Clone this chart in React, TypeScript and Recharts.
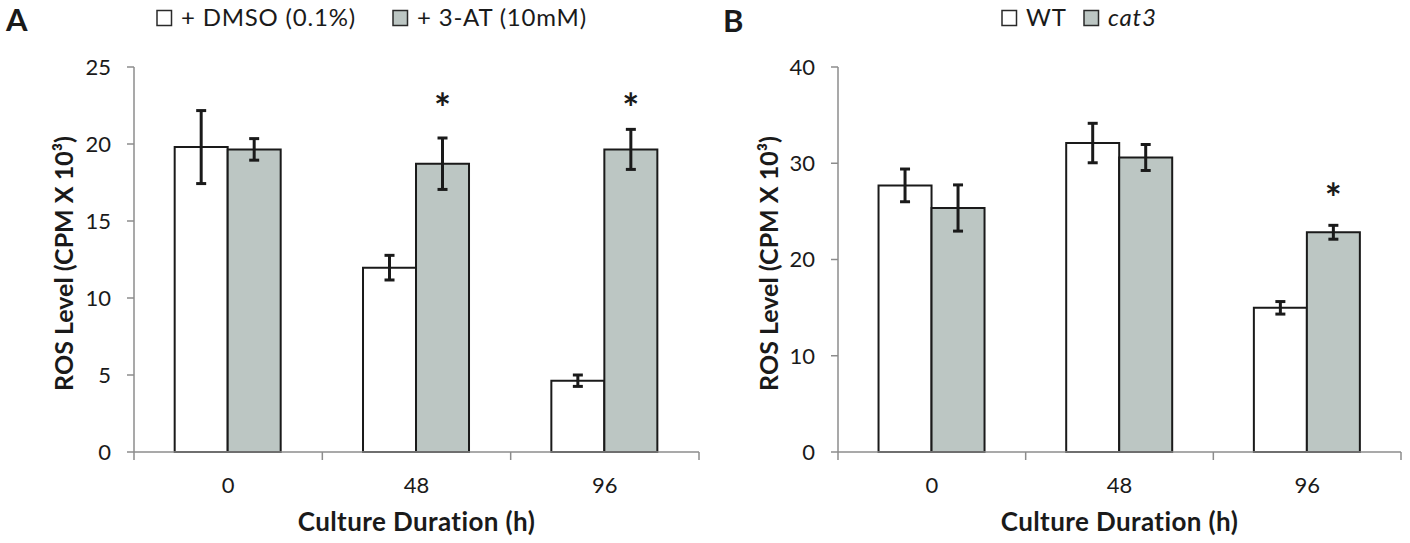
import React from 'react';
import { BarChart, Bar, XAxis, YAxis, ErrorBar, LabelList } from 'recharts';

const FONT = 'Lato, "Open Sans", sans-serif';
const AXIS_GRAY = '#8c8c8c';
const INK = '#1a1a1a';
const BAR_GRAY = '#bcc6c3';

// shared
const categories = ['0', '48', '96'];
const xTitle = 'Culture Duration (h)';
const yTitle = 'ROS Level (CPM X 10³)';

// Panel A
const panelLetterA = 'A';
const seriesNamesA = ['+ DMSO (0.1%)', '+ 3-AT (10mM)'];
const dmsoMeans = [19.8, 11.97, 4.63];
const dmsoErrors = [2.37, 0.8, 0.37];
const atMeans = [19.65, 18.72, 19.65];
const atErrors = [0.7, 1.67, 1.3];
const atStars = [null, 22.7, 22.7];
const yTicksA = [0, 5, 10, 15, 20, 25];

// Panel B
const panelLetterB = 'B';
const seriesNamesB = ['WT', 'cat3'];
const wtMeans = [27.7, 32.1, 14.98];
const wtErrors = [1.7, 2.05, 0.65];
const cat3Means = [25.35, 30.6, 22.83];
const cat3Errors = [2.4, 1.35, 0.72];
const cat3Stars = [null, null, 27.0];
const yTicksB = [0, 10, 20, 30, 40];

const buildData = (
  firstMeans: number[],
  firstErrors: number[],
  secondMeans: number[],
  secondErrors: number[],
  stars: (number | null)[]
) =>
  categories.map((cat, i) => ({
    cat,
    first: firstMeans[i],
    firstErr: firstErrors[i],
    second: secondMeans[i],
    secondErr: secondErrors[i],
    star: stars[i] == null ? null : { level: stars[i], mean: secondMeans[i] },
  }));

const dataA = buildData(dmsoMeans, dmsoErrors, atMeans, atErrors, atStars);
const dataB = buildData(wtMeans, wtErrors, cat3Means, cat3Errors, cat3Stars);

const XTick = (props: any) => {
  const { x, y, payload, index, visibleTicksCount } = props;
  const half = payload && payload.offset ? payload.offset : 94;
  const last = (visibleTicksCount ?? categories.length) - 1;
  return (
    <g>
      <line x1={x - half} x2={x - half} y1={y} y2={y + 8} stroke={AXIS_GRAY} strokeWidth={1.5} />
      {index === last && (
        <line x1={x + half} x2={x + half} y1={y} y2={y + 8} stroke={AXIS_GRAY} strokeWidth={1.5} />
      )}
      <text x={x} y={y + 41} textAnchor="middle" fontSize={22} fontFamily={FONT} fill={INK}>
        {payload.value}
      </text>
    </g>
  );
};

const renderXTitle = (props: any) => {
  const vb = props.viewBox || props;
  return (
    <text
      x={vb.x + vb.width / 2}
      y={vb.y + 79}
      textAnchor="middle"
      fontSize={26}
      letterSpacing={0.4}
      fontWeight="bold"
      fontFamily={FONT}
      fill={INK}
    >
      {xTitle}
    </text>
  );
};

const renderYTitle = (props: any) => {
  const vb = props.viewBox || props;
  const cx = vb.x + 73;
  const cy = vb.y + vb.height / 2 + 4;
  return (
    <text
      x={cx}
      y={cy}
      transform={`rotate(-90 ${cx} ${cy})`}
      textAnchor="middle"
      fontSize={25}
      fontWeight="bold"
      fontFamily={FONT}
      fill={INK}
    >
      {yTitle}
    </text>
  );
};

const renderStar = (props: any) => {
  const v = props.value;
  if (!v || typeof v !== 'object') return null;
  const vb = props.viewBox || props;
  const { x, y, width, height } = vb;
  const perUnit = height / v.mean;
  const base = y + height;
  const cy = base - v.level * perUnit;
  return (
    <text x={x + width / 2} y={cy + 21} textAnchor="middle" fontSize={40} fontWeight="bold" fontFamily={FONT} fill={INK}>
      *
    </text>
  );
};

type PanelProps = {
  data: any[];
  ticks: number[];
  yAxisWidth: number;
  marginRight: number;
};

const Panel = ({ data, ticks, yAxisWidth, marginRight }: PanelProps) => (
  <BarChart
    width={705}
    height={543}
    data={data}
    margin={{ top: 67, right: marginRight, bottom: 0, left: 0 }}
    barGap={0}
    barCategoryGap="21.6%"
  >
    <XAxis
      dataKey="cat"
      height={91}
      interval={0}
      axisLine={{ stroke: AXIS_GRAY, strokeWidth: 1.5 }}
      tickLine={false}
      tickSize={0}
      tickMargin={0}
      tick={<XTick />}
      label={{ content: renderXTitle }}
    />
    <YAxis
      width={yAxisWidth}
      domain={[ticks[0], ticks[ticks.length - 1]]}
      ticks={ticks}
      interval={0}
      axisLine={{ stroke: AXIS_GRAY, strokeWidth: 1.5 }}
      tickLine={{ stroke: AXIS_GRAY, strokeWidth: 1.5 }}
      tickSize={7}
      tickMargin={16}
      tick={{ fill: INK, fontSize: 22, fontFamily: FONT }}
      label={{ content: renderYTitle }}
    />
    <Bar dataKey="first" fill="#ffffff" stroke={INK} strokeWidth={2} isAnimationActive={false}>
      <ErrorBar dataKey="firstErr" width={5} strokeWidth={3} stroke={INK} direction="y" />
    </Bar>
    <Bar dataKey="second" fill={BAR_GRAY} stroke={INK} strokeWidth={2} isAnimationActive={false}>
      <ErrorBar dataKey="secondErr" width={5} strokeWidth={3} stroke={INK} direction="y" />
      <LabelList dataKey="star" content={renderStar} />
    </Bar>
  </BarChart>
);

const LegendItem = ({ x, fill, label, italic }: { x: number; fill: string; label: string; italic?: boolean }) => (
  <g>
    <rect x={x} y={10.5} width={14.5} height={15} fill={fill} stroke="#2a2a2a" strokeWidth={1.5} />
    <text
      x={x + 24}
      y={26}
      fontSize={24}
      letterSpacing={0.8}
      fontFamily={FONT}
      fontStyle={italic ? 'italic' : 'normal'}
      fill={INK}
    >
      {label}
    </text>
  </g>
);

export default function App() {
  return (
    <div style={{ position: 'absolute', left: 0, top: 0, width: 1410, height: 543, background: '#fff' }}>
      <div style={{ position: 'absolute', left: 0, top: 0 }}>
        <Panel data={dataA} ticks={yTicksA} yAxisWidth={134} marginRight={6} />
      </div>
      <div style={{ position: 'absolute', left: 705, top: 0 }}>
        <Panel data={dataB} ticks={yTicksB} yAxisWidth={133} marginRight={9} />
      </div>
      <svg
        width={1410}
        height={543}
        style={{ position: 'absolute', left: 0, top: 0, pointerEvents: 'none' }}
      >
        <text x={6} y={31} fontSize={31} fontWeight="bold" fontFamily={FONT} fill={INK}>
          {panelLetterA}
        </text>
        <text x={723} y={32} fontSize={31} fontWeight="bold" fontFamily={FONT} fill={INK}>
          {panelLetterB}
        </text>
        <LegendItem x={157} fill="#ffffff" label={seriesNamesA[0]} />
        <LegendItem x={393} fill={BAR_GRAY} label={seriesNamesA[1]} />
        <LegendItem x={1002} fill="#ffffff" label={seriesNamesB[0]} />
        <LegendItem x={1084} fill={BAR_GRAY} label={seriesNamesB[1]} italic />
      </svg>
    </div>
  );
}
